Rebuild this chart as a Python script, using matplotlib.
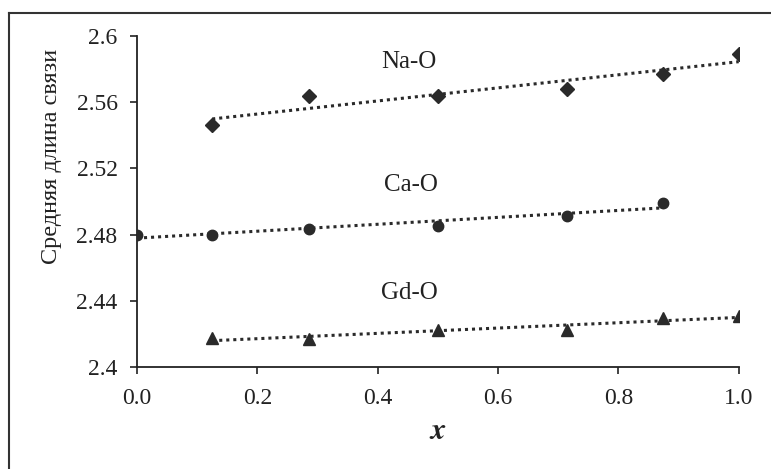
import matplotlib
matplotlib.use("Agg")
import matplotlib.pyplot as plt
import numpy as np
from matplotlib.lines import Line2D

plt.rcParams['font.family'] = ['Liberation Serif', 'DejaVu Serif']

x_na = [0.125, 0.2857, 0.5, 0.7143, 0.875, 1.0]
y_na = [2.546, 2.564, 2.564, 2.568, 2.577, 2.589]

x_ca = [0.0, 0.125, 0.2857, 0.5, 0.7143, 0.875]
y_ca = [2.480, 2.480, 2.4836, 2.4854, 2.4912, 2.4993]

x_gd = [0.125, 0.2857, 0.5, 0.7143, 0.875, 1.0]
y_gd = [2.4177, 2.4169, 2.4224, 2.4224, 2.4294, 2.4308]

labels = ["Na-O", "Ca-O", "Gd-O"]
label_pos = [(0.452, 2.584), (0.455, 2.510), (0.453, 2.4447)]

xticks = [0.0, 0.2, 0.4, 0.6, 0.8, 1.0]
yticks = [2.4, 2.44, 2.48, 2.52, 2.56, 2.6]
ytick_labels = ["2.4", "2.44", "2.48", "2.52", "2.56", "2.6"]

fig = plt.figure(figsize=(7.71, 4.69), dpi=100)
ax = fig.add_axes([137/771, 1-367/469, (738.7-137)/771, (367-36)/469])

series = [(x_na, y_na, 'D', 7), (x_ca, y_ca, 'o', 7.5), (x_gd, y_gd, '^', 8)]
for xs, ys, m, ms in series:
    xs = np.array(xs); ys = np.array(ys)
    ax.plot(xs, ys, linestyle='none', marker=m, markersize=ms, color='#2a2a2a', zorder=3)
    k, b = np.polyfit(xs, ys, 1)
    xl = np.array([xs.min(), xs.max()])
    ax.plot(xl, k*xl+b, linestyle=(0, (1, 1.3)), linewidth=2.2, color='#2a2a2a', zorder=2)

for t, (lx, ly) in zip(labels, label_pos):
    ax.text(lx, ly, t, fontsize=18, ha='center', va='center', color='#222222')

ax.set_xlim(0, 1.0)
ax.set_ylim(2.4, 2.6)
ax.set_xticks(xticks)
ax.set_xticklabels([f"{v:.1f}" for v in xticks])
ax.set_yticks(yticks)
ax.set_yticklabels(ytick_labels)
ax.tick_params(direction='out', length=5, width=1.2, labelsize=17, colors='#222222')
ax.tick_params(axis='x', pad=10)
ax.tick_params(axis='y', pad=9)
for s in ['top', 'right']:
    ax.spines[s].set_visible(False)
for s in ['left', 'bottom']:
    ax.spines[s].set_linewidth(1.3)
    ax.spines[s].set_color('#222222')

ax.set_xlabel('x', fontsize=22, fontweight='bold', style='italic', color='#222222',
              labelpad=6, family=['TeX Gyre Termes', 'STIXGeneral', 'Liberation Serif'])
ax.set_ylabel('Средняя длина связи', fontsize=17.5, color='#222222')
ax.yaxis.set_label_coords(-0.125, 0.637)

fig.add_artist(Line2D([9/771, 9/771], [0, 1-13/469], transform=fig.transFigure, color='#333333', linewidth=1.5))
fig.add_artist(Line2D([9/771, 1], [1-13/469, 1-13/469], transform=fig.transFigure, color='#333333', linewidth=1.5))

fig.savefig('out.png', dpi=100)
